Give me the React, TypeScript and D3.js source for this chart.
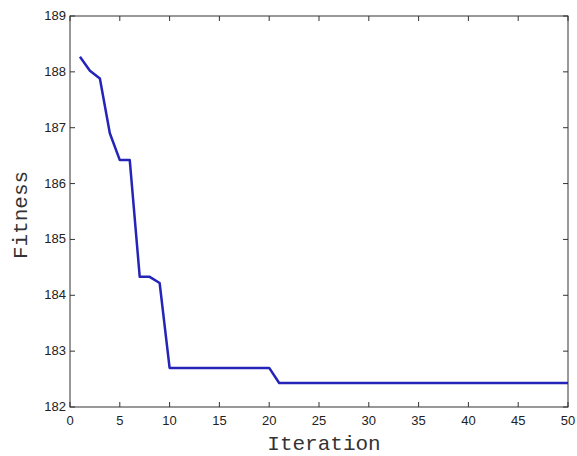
import React from "react";
import * as d3 from "d3";

const iterations = d3.range(1, 51);
const fitness = [
  188.27, 188.02, 187.88, 186.9, 186.42, 186.42, 184.33, 184.33, 184.22, 182.7,
  182.7, 182.7, 182.7, 182.7, 182.7, 182.7, 182.7, 182.7, 182.7, 182.7,
  182.43, 182.43, 182.43, 182.43, 182.43, 182.43, 182.43, 182.43, 182.43, 182.43,
  182.43, 182.43, 182.43, 182.43, 182.43, 182.43, 182.43, 182.43, 182.43, 182.43,
  182.43, 182.43, 182.43, 182.43, 182.43, 182.43, 182.43, 182.43, 182.43, 182.43,
];
const xTicks = [0, 5, 10, 15, 20, 25, 30, 35, 40, 45, 50];
const yTicks = [182, 183, 184, 185, 186, 187, 188, 189];

const W = 577, H = 456;
const L = 70, R = 568, T = 16, B = 407;

export default function App() {
  const x = d3.scaleLinear().domain([0, 50]).range([L, R]);
  const y = d3.scaleLinear().domain([182, 189]).range([B, T]);
  const line = d3.line<number>().x((_, i) => x(iterations[i])).y((d) => y(d));
  const tick = 5;
  const axisColor = "#333";
  return (
    <svg width={W} height={H} style={{ position: "absolute", left: 0, top: 0, background: "#fff" }}>
      <rect x={L} y={T} width={R - L} height={B - T} fill="none" stroke={axisColor} strokeWidth={1} />
      {xTicks.map((t) => (
        <g key={"x" + t}>
          <line x1={x(t)} x2={x(t)} y1={B} y2={B - tick} stroke={axisColor} />
          <line x1={x(t)} x2={x(t)} y1={T} y2={T + tick} stroke={axisColor} />
          <text x={x(t)} y={425} textAnchor="middle" fontFamily="Arial, Liberation Sans" fontSize={13} fill="#222">
            {t}
          </text>
        </g>
      ))}
      {yTicks.map((t) => (
        <g key={"y" + t}>
          <line x1={L} x2={L + tick} y1={y(t)} y2={y(t)} stroke={axisColor} />
          <line x1={R} x2={R - tick} y1={y(t)} y2={y(t)} stroke={axisColor} />
          <text x={L - 4} y={y(t) + 4} textAnchor="end" fontFamily="Arial, Liberation Sans" fontSize={13} fill="#222">
            {t}
          </text>
        </g>
      ))}
      <path d={line(fitness) || ""} fill="none" stroke="#2424b8" strokeWidth={2.5} strokeLinejoin="round" />
      <text x={324} y={450} textAnchor="middle" fontFamily="Liberation Mono, Courier New, monospace" fontSize={21} fill="#333">
        Iteration
      </text>
      <text
        transform={`translate(27,215) rotate(-90)`}
        textAnchor="middle"
        fontFamily="Liberation Mono, Courier New, monospace"
        fontSize={21}
        fill="#333"
      >
        Fitness
      </text>
    </svg>
  );
}
